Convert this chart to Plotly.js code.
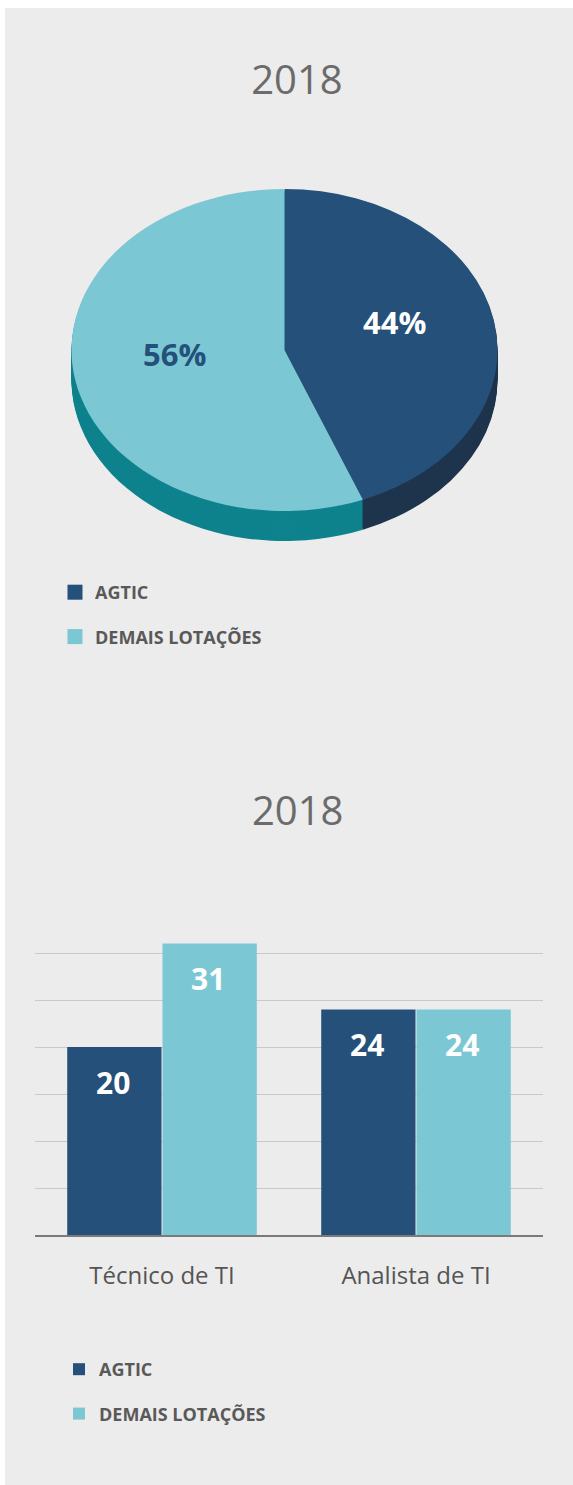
<!DOCTYPE html>
<html>
<head>
<meta charset="utf-8">
<script src="https://cdn.plot.ly/plotly-3.0.1.min.js"></script>
<style>
  html, body { margin: 0; padding: 0; background: #ffffff; }
  #chart { width: 573px; height: 1485px; }
</style>
</head>
<body>
<div id="chart"></div>
<script>
// ---- data ----
const chartTitles = ['2018', '2018'];
const pieLabels = ['AGTIC', 'DEMAIS LOTAÇÕES'];
const pieValues = [44, 56];
const categories = ['Técnico de TI', 'Analista de TI'];
const seriesNames = ['AGTIC', 'DEMAIS LOTAÇÕES'];
const agticValues = [20, 24];
const demaisValues = [31, 24];

// ---- styles ----
const W = 573, H = 1485;
const DARK = '#245079', LIGHT = '#7bc8d4';
const DARK_SIDE = '#1f344d', LIGHT_SIDE = '#0e828d';
const FONT = 'Open Sans, Noto Sans, sans-serif';
const k = 0.756;            // vertical squash of the pie (tilt)
const pcx = 284.5, pcy = 350, pr = 213;  // pie geometry in px
const depth = 30;

function px2x(p) { return p / W; }
function px2y(p) { return 1 - p / H; }

const traces = [];
// side (depth) of the pie: stacked copies, drawn from the bottom up
for (let d = depth; d >= 1; d -= 1.5) {
  const cy = pcy + d / k;
  traces.push({
    type: 'pie', labels: pieLabels, values: pieValues, sort: false,
    direction: 'clockwise', rotation: 0, textinfo: 'none', hoverinfo: 'skip',
    showlegend: false,
    marker: { colors: [DARK_SIDE, LIGHT_SIDE], line: { width: 0 } },
    domain: { x: [px2x(pcx - pr), px2x(pcx + pr)], y: [px2y(cy + pr), px2y(cy - pr)] }
  });
}
// top face
traces.push({
  type: 'pie', labels: pieLabels, values: pieValues, sort: false,
  direction: 'clockwise', rotation: 0, textinfo: 'none',
  showlegend: false,
  marker: { colors: [DARK, LIGHT], line: { width: 0 } },
  domain: { x: [px2x(pcx - pr), px2x(pcx + pr)], y: [px2y(pcy + pr), px2y(pcy - pr)] }
});
// legend entries of the pie
pieLabels.forEach((lab, i) => {
  traces.push({
    type: 'scatter', mode: 'markers', x: [null], y: [null], name: lab,
    legend: 'legend', legendgroup: 'p' + i, hoverinfo: 'skip',
    marker: { symbol: 'square', size: 15, color: [DARK, LIGHT][i] }
  });
});
// bars
const barSeries = [agticValues, demaisValues];
barSeries.forEach((vals, i) => {
  traces.push({
    type: 'bar', x: categories, y: vals, name: seriesNames[i],
    legend: 'legend2', legendgroup: 'b' + i,
    marker: { color: [DARK, LIGHT][i], line: { width: 0 } },
    hoverinfo: 'x+y+name'
  });
});

// pie labels (percentages) placed at mid-angle of each slice
const annotations = [];
const total = pieValues.reduce((a, b) => a + b, 0);
let cum = 0;
pieValues.forEach((v, i) => {
  const mid = (cum + v / 2) / total * 2 * Math.PI;
  cum += v;
  const lx = pcx + pr * 0.525 * Math.sin(mid);
  const ly = 338 - pr * k * 0.53 * Math.cos(mid);
  annotations.push({
    xref: 'paper', yref: 'paper', x: px2x(lx), y: px2y(ly),
    xanchor: 'center', yanchor: 'middle', showarrow: false,
    text: '<b>' + Math.round(v / total * 100) + '%</b>',
    font: { family: FONT, size: 31, color: i === 0 ? '#ffffff' : DARK }
  });
});
// bar value labels
barSeries.forEach((vals, i) => {
  vals.forEach((v, j) => {
    annotations.push({
      xref: 'x', yref: 'y', x: categories[j], y: v,
      xshift: (i === 0 ? -49 : 46), yshift: -35,
      xanchor: 'center', yanchor: 'middle', showarrow: false,
      text: '<b>' + v + '</b>',
      font: { family: FONT, size: 30, color: '#ffffff' }
    });
  });
});
// second title
annotations.push({
  xref: 'paper', yref: 'paper', x: px2x(297), y: px2y(810),
  xanchor: 'center', yanchor: 'middle', showarrow: false,
  text: chartTitles[1], font: { family: FONT, size: 40, color: '#6b6b6b' }
});

const layout = {
  width: W, height: H,
  margin: { l: 0, r: 0, t: 0, b: 0, pad: 0 },
  paper_bgcolor: '#ffffff', plot_bgcolor: 'rgba(0,0,0,0)',
  font: { family: FONT, color: '#595959' },
  title: {
    text: chartTitles[0], x: px2x(297), xanchor: 'center',
    y: px2y(80), yanchor: 'middle',
    font: { family: FONT, size: 40, color: '#6b6b6b' }
  },
  shapes: [{
    type: 'rect', xref: 'paper', yref: 'paper', layer: 'below',
    x0: px2x(5), x1: 1, y0: 0, y1: px2y(8),
    fillcolor: '#ececec', line: { width: 0 }
  }],
  barmode: 'group', bargap: 0.25, bargroupgap: 0.01,
  xaxis: {
    domain: [px2x(35), px2x(543)], type: 'category',
    showgrid: false, zeroline: false,
    showline: true, linecolor: '#7a7a7a', linewidth: 2,
    ticks: '', ticklabelstandoff: 18,
    tickfont: { family: FONT, size: 24, color: '#555555' },
    fixedrange: true
  },
  yaxis: {
    domain: [px2y(1235), px2y(1235 - 32 * 9.4)],
    range: [0, 32], dtick: 5, tick0: 0,
    showgrid: true, gridcolor: '#c9c9c9', gridwidth: 1,
    zeroline: false, showticklabels: false, ticks: '',
    fixedrange: true
  },
  legend: {
    x: px2x(55), xanchor: 'left', y: px2y(574), yanchor: 'top',
    orientation: 'v', tracegroupgap: 18, bgcolor: 'rgba(0,0,0,0)',
    font: { family: FONT, size: 18, color: '#595959', weight: 'bold' }
  },
  legend2: {
    x: px2x(59), xanchor: 'left', y: px2y(1351), yanchor: 'top',
    orientation: 'v', tracegroupgap: 18, bgcolor: 'rgba(0,0,0,0)',
    font: { family: FONT, size: 18, color: '#595959', weight: 'bold' }
  },
  annotations: annotations,
  showlegend: true
};

Plotly.newPlot('chart', traces, layout, { displayModeBar: false, staticPlot: true }).then(function (gd) {
  const pl = gd.querySelector('.pielayer');
  if (pl) {
    pl.setAttribute('transform',
      'translate(0,' + pcy + ') scale(1,' + k + ') translate(0,' + (-pcy) + ')');
  }
});
</script>
</body>
</html>
